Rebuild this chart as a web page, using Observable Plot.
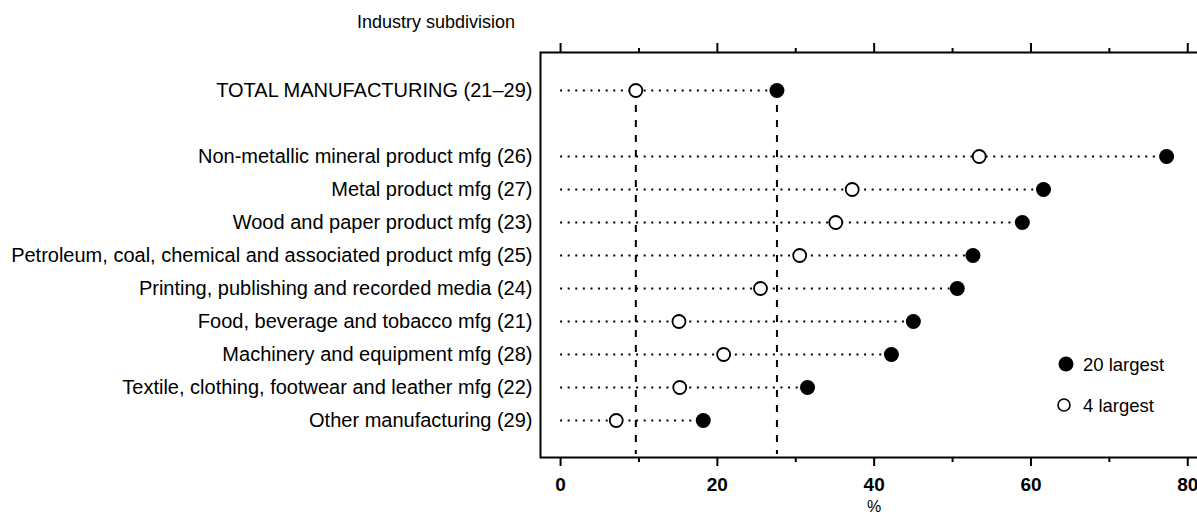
<!DOCTYPE html>
<html>
<head>
<meta charset="utf-8">
<script src="https://cdn.jsdelivr.net/npm/d3@7"></script>
<script src="https://cdn.jsdelivr.net/npm/@observablehq/plot@0.6"></script>
<style>
  html, body { margin: 0; padding: 0; background: #fff; overflow: hidden; }
  #wrap { position: relative; width: 1197px; height: 520px; overflow: hidden;
          font-family: "Liberation Sans", Arial, sans-serif; color: #000; }
  #title { position: absolute; left: 0; top: 12px; width: 515px; text-align: right;
           font-size: 18px; line-height: 20px; }
  #chart { position: absolute; left: 0; top: 0; }
  #legend { position: absolute; left: 1050px; top: 345px; }
</style>
</head>
<body>
<div id="wrap">
  <div id="chart"></div>
  <div id="title">Industry subdivision</div>
  <svg id="legend" width="147" height="80" font-family="Liberation Sans, Arial, sans-serif">
    <circle cx="16" cy="19" r="7.5" fill="#000"></circle>
    <text x="33" y="25.5" font-size="18.5">20 largest</text>
    <circle cx="14" cy="60" r="6" fill="#fff" stroke="#000" stroke-width="1.6"></circle>
    <text x="33" y="67" font-size="18.5">4 largest</text>
  </svg>
</div>
<script>
// ---- data ----
const categories = [
  "TOTAL MANUFACTURING (21–29)",
  "Non-metallic mineral product mfg (26)",
  "Metal product mfg (27)",
  "Wood and paper product mfg (23)",
  "Petroleum, coal, chemical and associated product mfg (25)",
  "Printing, publishing and recorded media (24)",
  "Food, beverage and tobacco mfg (21)",
  "Machinery and equipment mfg (28)",
  "Textile, clothing, footwear and leather mfg (22)",
  "Other manufacturing (29)"
];
const largest4  = [9.6, 53.4, 37.2, 35.1, 30.5, 25.5, 15.1, 20.8, 15.2, 7.1];
const largest20 = [27.6, 77.3, 61.6, 58.9, 52.6, 50.6, 45.0, 42.2, 31.5, 18.2];
const xTicks = [0, 20, 40, 60, 80];
const xMinorTicks = [10, 30, 50, 70];
const axisLabel = "%";
const spacer = "";

// ---- derived tables ----
const data = categories.map((c, i) => ({cat: c, v4: largest4[i], v20: largest20[i]}));
const totalLines = [largest4[0], largest20[0]].map(v => ({
  x: v, top: categories[0], bottom: categories[categories.length - 1]
}));
const yDomain = [categories[0], spacer, ...categories.slice(1)];

const chart = Plot.plot({
  width: 1210,
  height: 520,
  marginLeft: 540,
  marginRight: 0,
  marginTop: 52,
  marginBottom: 63,
  style: {fontFamily: "Liberation Sans, Arial, sans-serif", maxWidth: "none", overflow: "visible", background: "transparent"},
  x: {domain: [-2.56, 82.9], axis: null},
  y: {type: "point", domain: yDomain, range: [87, 423], padding: 0, axis: null},
  marks: [
    Plot.frame({stroke: "#000", strokeWidth: 2}),
    Plot.ruleY(data, {y: "cat", x1: 0, x2: "v20", stroke: "#000", strokeWidth: 1.8, strokeDasharray: "2,5.6"}),
    Plot.ruleX(totalLines, {x: "x", y1: "top", y2: "bottom",
      insetBottom: -34, stroke: "#000", strokeWidth: 2, strokeDasharray: "7,8"}),
    Plot.dot(data, {x: "v4", y: "cat", r: 6.5, fill: "#fff", stroke: "#000", strokeWidth: 1.8}),
    Plot.dot(data, {x: "v20", y: "cat", r: 7.5, fill: "#000", stroke: "none"}),
    Plot.axisX({anchor: "bottom", ticks: xTicks, tickSize: 9, tickPadding: 11, fontSize: 19,
      fontWeight: "bold", strokeWidth: 2, label: null}),
    Plot.axisX({anchor: "bottom", ticks: xMinorTicks, tickSize: 5, tickFormat: () => "", strokeWidth: 2, label: null}),
    Plot.axisX({anchor: "top", ticks: xTicks, tickSize: 10, tickFormat: () => "", strokeWidth: 2, label: null}),
    Plot.axisX({anchor: "top", ticks: xMinorTicks, tickSize: 5, tickFormat: () => "", strokeWidth: 2, label: null}),
    Plot.axisY({anchor: "left", tickSize: 0, tickPadding: 8, fontSize: 20, label: null, tickFormat: d => d}),
    Plot.text([axisLabel], {x: xTicks[2], frameAnchor: "bottom", dy: 54, fontSize: 16, text: d => d})
  ]
});
document.getElementById("chart").appendChild(chart);
</script>
</body>
</html>
